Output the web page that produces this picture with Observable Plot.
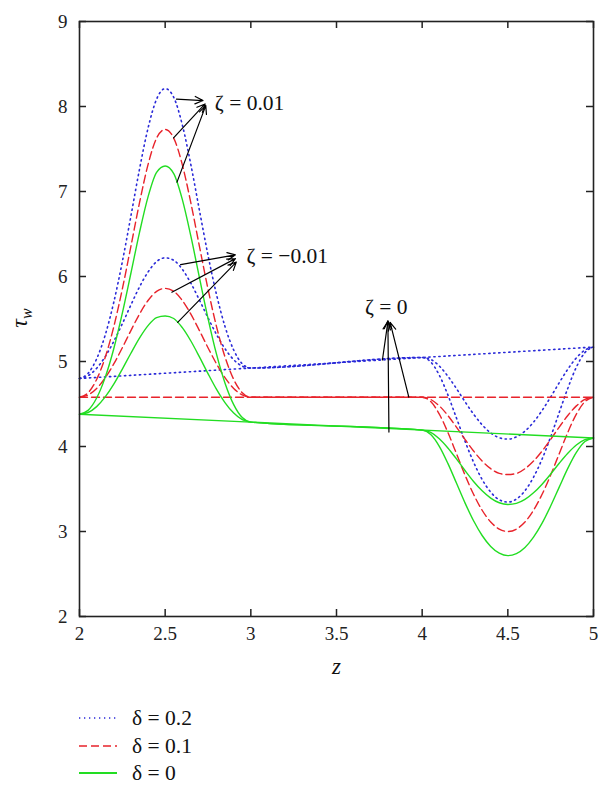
<!DOCTYPE html>
<html><head><meta charset="utf-8">
<script src="https://cdn.jsdelivr.net/npm/d3@7"></script>
<script src="https://cdn.jsdelivr.net/npm/@observablehq/plot@0.6"></script>
<style>
body{margin:0;background:#fff;font-family:"Liberation Serif",serif;}
#wrap{position:relative;width:611px;height:792px;overflow:hidden;}
#legend{position:absolute;left:0;top:700px;width:611px;height:92px;}
.row{position:absolute;left:79px;height:26px;display:flex;align-items:center;font-size:21.5px;color:#111;}
.row svg{margin-right:15px;}
</style></head><body><div id="wrap"><div id="chart"></div><div id="legend"></div></div>
<script>
// axial positions
const zBump = [2.0,2.05,2.1,2.15,2.2,2.25,2.3,2.35,2.4,2.45,2.5,2.55,2.6,2.65,2.7,2.75,2.8,2.85,2.9,2.95,3.0];
const zDip  = [4.0,4.05,4.1,4.15,4.2,4.25,4.3,4.35,4.4,4.45,4.5,4.55,4.6,4.65,4.7,4.75,4.8,4.85,4.9,4.95,5.0];
const zEnds = [2, 5];

// delta = 0 (green)
const d0_zp_bump = [4.380,4.425,4.570,4.813,5.150,5.568,6.038,6.516,6.937,7.225,7.300,7.210,6.907,6.474,5.987,5.508,5.083,4.741,4.492,4.340,4.287];
const d0_zp_dip  = [4.193,4.141,4.002,3.801,3.570,3.337,3.126,2.953,2.824,2.745,2.716,2.739,2.811,2.933,3.098,3.300,3.522,3.742,3.930,4.058,4.100];
const d0_zm_bump = [4.380,4.400,4.469,4.583,4.733,4.911,5.097,5.275,5.422,5.517,5.535,5.506,5.398,5.241,5.054,4.858,4.672,4.514,4.393,4.315,4.287];
const d0_zm_dip  = [4.193,4.165,4.091,3.983,3.854,3.718,3.589,3.479,3.393,3.338,3.318,3.331,3.377,3.455,3.557,3.676,3.803,3.921,4.018,4.081,4.100];
const d0_z0      = [4.380,4.100];

// delta = 0.1 (red)
const d1_zp_bump = [4.580,4.632,4.789,5.049,5.408,5.853,6.355,6.865,7.316,7.628,7.730,7.628,7.316,6.865,6.355,5.853,5.408,5.049,4.789,4.632,4.580];
const d1_zp_dip  = [4.580,4.528,4.381,4.166,3.916,3.665,3.438,3.250,3.112,3.028,3.000,3.028,3.112,3.250,3.438,3.665,3.916,4.166,4.381,4.528,4.580];
const d1_zm_bump = [4.580,4.606,4.683,4.807,4.971,5.162,5.364,5.557,5.718,5.825,5.860,5.825,5.718,5.557,5.364,5.162,4.971,4.807,4.683,4.606,4.580];
const d1_zm_dip  = [4.580,4.553,4.478,4.365,4.228,4.084,3.947,3.829,3.739,3.683,3.670,3.683,3.739,3.829,3.947,4.084,4.228,4.365,4.478,4.553,4.580];
const d1_z0      = [4.580,4.580];

// delta = 0.2 (blue)
const d2_zp_bump = [4.800,4.861,5.031,5.311,5.697,6.174,6.711,7.260,7.745,8.087,8.210,8.108,7.785,7.315,6.779,6.251,5.785,5.407,5.135,4.973,4.923];
const d2_zp_dip  = [5.047,4.995,4.839,4.607,4.336,4.063,3.816,3.612,3.463,3.373,3.346,3.381,3.480,3.639,3.853,4.113,4.400,4.685,4.934,5.105,5.170];
const d2_zm_bump = [4.800,4.833,4.920,5.057,5.237,5.445,5.665,5.877,6.053,6.175,6.220,6.191,6.085,5.921,5.723,5.514,5.317,5.148,5.021,4.945,4.923];
const d2_zm_dip  = [5.047,5.024,4.947,4.827,4.682,4.527,4.381,4.255,4.160,4.103,4.087,4.113,4.181,4.286,4.424,4.582,4.750,4.909,5.043,5.134,5.170];
const d2_z0      = [4.800,5.170];

// annotation labels and arrows
const zetaLabels = ["ζ = 0.01", "ζ = −0.01", "ζ = 0"];
const labelZ   = [2.79, 2.975, 3.79];
const labelTau = [8.04, 6.24, 5.64];
const labelAnchor = ["start", "start", "middle"];
const arrowZ1   = [2.566, 2.549, 2.569, 2.590, 2.539, 2.573, 3.768, 3.806, 3.922];
const arrowTau1 = [8.086, 7.630, 7.110, 6.140, 5.815, 5.460, 5.018, 4.170, 4.580];
const arrowZ2   = [2.721, 2.733, 2.737, 2.910, 2.910, 2.915, 3.800, 3.800, 3.813];
const arrowTau2 = [8.070, 8.030, 8.010, 6.255, 6.210, 6.170, 5.470, 5.480, 5.460];

const xTicks = [2, 2.5, 3, 3.5, 4, 4.5, 5];
const yTicks = [2, 3, 4, 5, 6, 7, 8, 9];

const deltas = ["δ = 0.2", "δ = 0.1", "δ = 0"];
const colors = ["#2a2ad8", "#e8232b", "#22dd22"];
const dashes = ["1.3,3.7", "8,4", null];

// build tables
const series = [
  {d: 0, zeta: "0.01",  z: zBump.concat(zDip), t: d2_zp_bump.concat(d2_zp_dip)},
  {d: 0, zeta: "-0.01", z: zBump.concat(zDip), t: d2_zm_bump.concat(d2_zm_dip)},
  {d: 0, zeta: "0",     z: zEnds,              t: d2_z0},
  {d: 1, zeta: "0.01",  z: zBump.concat(zDip), t: d1_zp_bump.concat(d1_zp_dip)},
  {d: 1, zeta: "-0.01", z: zBump.concat(zDip), t: d1_zm_bump.concat(d1_zm_dip)},
  {d: 1, zeta: "0",     z: zEnds,              t: d1_z0},
  {d: 2, zeta: "0.01",  z: zBump.concat(zDip), t: d0_zp_bump.concat(d0_zp_dip)},
  {d: 2, zeta: "-0.01", z: zBump.concat(zDip), t: d0_zm_bump.concat(d0_zm_dip)},
  {d: 2, zeta: "0",     z: zEnds,              t: d0_z0}
];
const lineMarks = series.map(s => Plot.line(s.z.map((z, i) => ({z, tau: s.t[i]})), {
  x: "z", y: "tau", curve: "monotone-x",
  stroke: colors[s.d], strokeWidth: s.d === 0 ? 1.6 : 1.4,
  strokeDasharray: dashes[s.d]
}));
const arrows = arrowZ1.map((z, i) => ({x1: z, y1: arrowTau1[i], x2: arrowZ2[i], y2: arrowTau2[i]}));
const labels = zetaLabels.map((t, i) => ({t, z: labelZ[i], tau: labelTau[i], a: labelAnchor[i]}));

const FONT = "Liberation Serif, serif";
const fmt = d => String(d);
const W = 611, H = 700, MT = 21, ML = 79, MR = 18, MB = 84, TK = 7;
const innerW = W - ML - MR, innerH = H - MT - MB;
const tickStyle = {stroke: "#222", strokeWidth: 1.5};
const chart = Plot.plot({
  width: W, height: H,
  marginTop: MT, marginLeft: ML, marginRight: MR, marginBottom: MB,
  x: {domain: [2, 5], label: null},
  y: {domain: [2, 9], label: null},
  style: {fontFamily: FONT, fontSize: "19px", color: "#222", background: "white", overflow: "visible"},
  marks: [
    ...lineMarks,
    Plot.arrow(arrows, {x1: "x1", y1: "y1", x2: "x2", y2: "y2", stroke: "#000", strokeWidth: 1.2, headLength: 11, headAngle: 50}),
    Plot.text(labels.filter(d => d.a === "start"), {x: "z", y: "tau", text: "t", textAnchor: "start", fontSize: 21.5, fontFamily: FONT, fill: "#111"}),
    Plot.text(labels.filter(d => d.a === "middle"), {x: "z", y: "tau", text: "t", textAnchor: "middle", fontSize: 21.5, fontFamily: FONT, fill: "#111"}),
    Plot.axisX(xTicks, {anchor: "bottom", tickSize: 0, tickPadding: 10, tickFormat: fmt, label: null, fontSize: 19}),
    Plot.axisY(yTicks, {anchor: "left", tickSize: 0, tickPadding: 12, tickFormat: fmt, label: null, fontSize: 19}),
    // inward ticks on all four sides
    Plot.tickX(xTicks, {x: d => d, insetTop: innerH - TK, ...tickStyle}),
    Plot.tickX(xTicks, {x: d => d, insetBottom: innerH - TK, ...tickStyle}),
    Plot.tickY(yTicks, {y: d => d, insetRight: innerW - TK, ...tickStyle}),
    Plot.tickY(yTicks, {y: d => d, insetLeft: innerW - TK, ...tickStyle}),
    Plot.frame({stroke: "#222", strokeWidth: 1.6}),
    Plot.text(["z"], {frameAnchor: "bottom", dy: 57, text: d => d, fontStyle: "italic", fontSize: 23, fontFamily: FONT, fill: "#111"})
  ]
});
document.getElementById("chart").appendChild(chart);

// y-axis title with subscript
const svg = d3.select(chart);
const yt = svg.append("text")
  .attr("transform", "translate(27,318) rotate(-90)")
  .attr("text-anchor", "middle")
  .attr("font-family", FONT).attr("font-size", 24).attr("font-style", "italic").attr("fill", "#111");
yt.append("tspan").text("τ");
yt.append("tspan").attr("font-size", 16).attr("dy", 5).text("w");

// legend
const legend = d3.select("#legend");
const rowTops = [5, 33, 60];
deltas.forEach((lab, i) => {
  const row = legend.append("div").attr("class", "row").style("top", rowTops[i] + "px");
  const s = row.append("svg").attr("width", 38).attr("height", 10);
  s.append("line").attr("x1", 0).attr("x2", 38).attr("y1", 5).attr("y2", 5)
    .attr("stroke", colors[i]).attr("stroke-width", i === 2 ? 2 : 1.6)
    .attr("stroke-dasharray", dashes[i]);
  row.append("span").text(lab);
});
</script>
</body></html>
